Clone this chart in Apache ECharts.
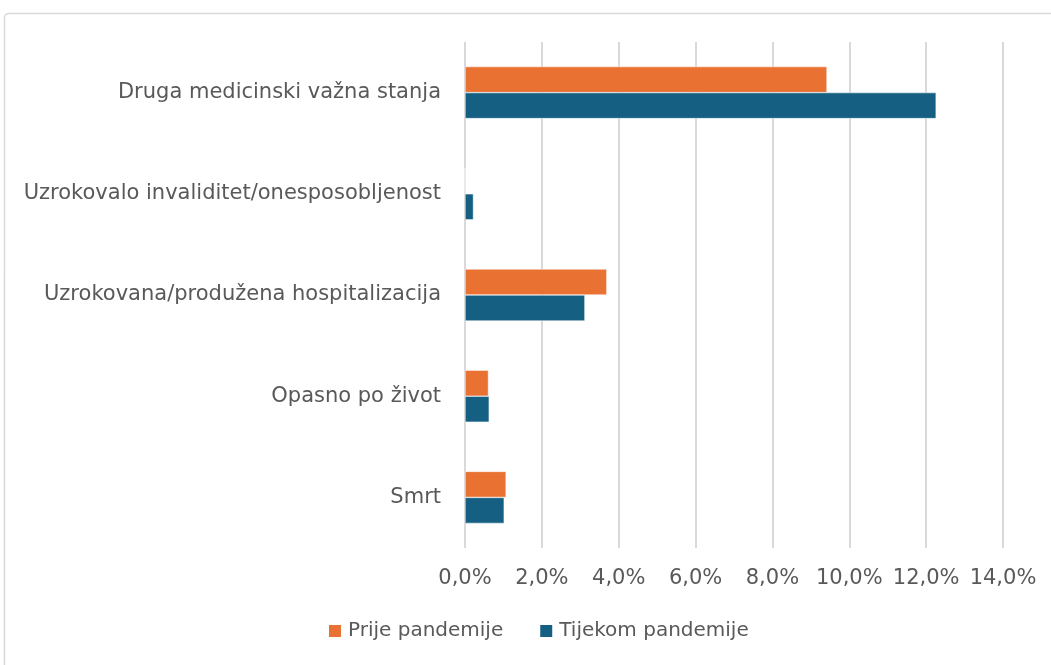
<!DOCTYPE html>
<html><head><meta charset="utf-8">
<script src="https://cdn.jsdelivr.net/npm/echarts@6/dist/echarts.min.js"></script>
<style>html,body{margin:0;padding:0;background:#fff}#c{width:1051px;height:665px}</style>
</head><body><div id="c"></div>
<script>
const categories = ["Druga medicinski važna stanja","Uzrokovalo invaliditet/onesposobljenost","Uzrokovana/produžena hospitalizacija","Opasno po život","Smrt"];
const prijeValues = [9.42, 0, 3.69, 0.61, 1.07];
const tijekomValues = [12.26, 0.22, 3.12, 0.63, 1.02];
const seriesNames = ["Prije pandemije","Tijekom pandemije"];
const colors = ["#E97132","#156082"];
const chart = echarts.init(document.getElementById('c'), null, {renderer:'canvas'});
const font = "'DejaVu Sans', sans-serif";
chart.setOption({
  animation:false,
  backgroundColor:'#fff',
  graphic:[{type:'rect',shape:{x:4.5,y:13.5,width:1100,height:700,r:4},style:{fill:'none',stroke:'#d9d9d9',lineWidth:1.5},silent:true}],
  grid:{left:465,right:48,top:42,bottom:117,containLabel:false},
  legend:{bottom:19,left:322,itemWidth:14,itemHeight:14,itemGap:35,icon:'rect',
    textStyle:{color:'#595959',fontSize:20,fontFamily:font,padding:[0,0,0,1]},data:seriesNames},
  xAxis:{type:'value',min:0,max:14,interval:2,
    axisLabel:{formatter:v=>v.toFixed(1).replace('.',',')+'%',color:'#595959',fontSize:21,fontFamily:font,margin:20},
    splitLine:{show:true,lineStyle:{color:'#d9d9d9',width:2}},axisLine:{show:false},axisTick:{show:false}},
  yAxis:{type:'category',data:categories,inverse:true,
    axisLabel:{color:'#595959',fontSize:21,fontFamily:font,margin:24},
    axisLine:{show:false},axisTick:{show:false}},
  series:[
    {name:seriesNames[0],type:'bar',data:prijeValues,barWidth:26,barGap:'0%',itemStyle:{color:colors[0],borderColor:'#fff',borderWidth:0.5}},
    {name:seriesNames[1],type:'bar',data:tijekomValues,barWidth:26,barGap:'0%',itemStyle:{color:colors[1],borderColor:'#fff',borderWidth:0.5}}
  ]
});
</script></body></html>
